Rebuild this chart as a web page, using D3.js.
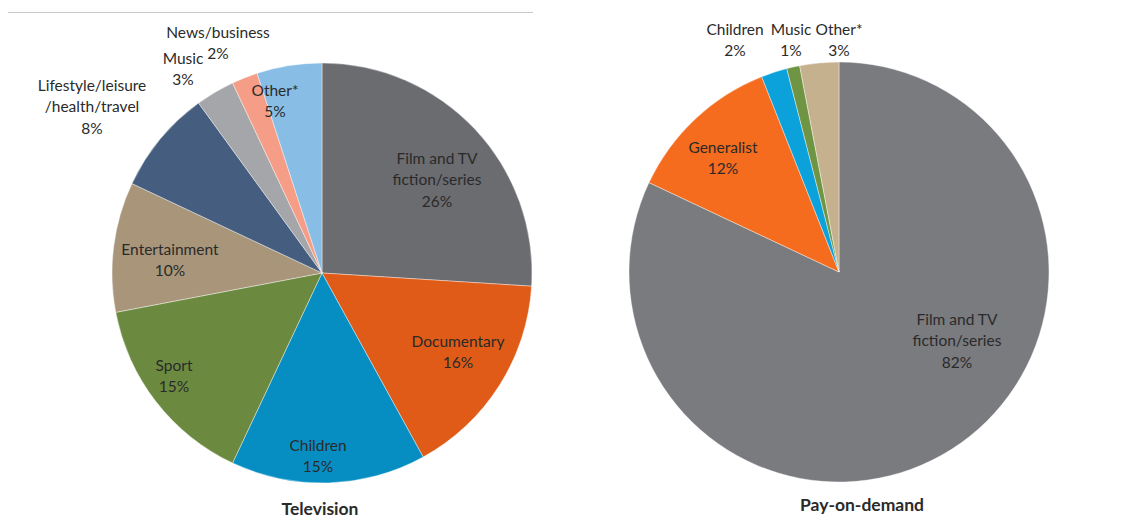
<!DOCTYPE html>
<html>
<head>
<meta charset="utf-8">
<script src="https://cdn.jsdelivr.net/npm/d3@7"></script>
<style>
  html, body { margin: 0; padding: 0; background: #fff; }
  svg { display: block; }
  text { font-family: Lato, "Open Sans", sans-serif; fill: #2a2a2a; }
</style>
</head>
<body>
<svg id="chart" width="1135" height="522"></svg>
<script>
// Television genre shares (clockwise from 12 o'clock)
const tvCategories = ["Film and TV\nfiction/series", "Documentary", "Children", "Sport", "Entertainment",
                      "Lifestyle/leisure\n/health/travel", "Music", "News/business", "Other*"];
const tvValues = [26, 16, 15, 15, 10, 8, 3, 2, 5];
const tvColors = ["#6b6c70", "#df5b17", "#068ec3", "#6c8a3f", "#a9967a", "#455d7e", "#a5a6a9", "#f69d87", "#88bee6"];

// Pay-on-demand genre shares
const podCategories = ["Film and TV\nfiction/series", "Generalist", "Children", "Music", "Other*"];
const podValues = [82, 12, 2, 1, 3];
const podColors = ["#7a7b7f", "#f56c1e", "#0ba2db", "#6f9443", "#c6b18f"];

const titles = ["Television", "Pay-on-demand"];

const svg = d3.select("#chart");

// thin rule across the top of the left panel
svg.append("line")
  .attr("x1", 8).attr("x2", 533).attr("y1", 12.5).attr("y2", 12.5)
  .attr("stroke", "#c9c9c9").attr("stroke-width", 1);

const radius = 210;

// label anchor positions (label centre) relative to each pie centre
const tvLabelPos = [[115, -93], [136, 79], [-4, 183], [-148, 103], [-152, -13],
                    [-230, -166], [-139, -204], [-104, -230], [-47, -172]];
const podLabelPos = [[118, 69], [-116, -114], [-104, -232], [-48, -232], [0, -232]];

function drawPie(cx, cy, categories, values, colors, labelPos, title, titleDx, titleY) {
  const g = svg.append("g").attr("transform", `translate(${cx},${cy})`);
  const pie = d3.pie().sort(null).value(d => d)(values);
  const arc = d3.arc().innerRadius(0).outerRadius(radius);

  g.selectAll("path.slice")
    .data(pie)
    .join("path")
    .attr("class", "slice")
    .attr("d", arc)
    .attr("fill", (d, i) => colors[i])
    .attr("stroke", "#ffffff")
    .attr("stroke-width", 0.4);

  const lineH = 21.5;
  pie.forEach((d, i) => {
    const lines = categories[i].split("\n").concat([values[i] + "%"]);
    const [lx, ly] = labelPos[i];
    const t = g.append("text")
      .attr("text-anchor", "middle")
      .attr("font-size", 15.5);
    const y0 = ly - (lines.length - 1) * lineH / 2;
    lines.forEach((s, k) => {
      t.append("tspan")
        .attr("x", lx)
        .attr("y", y0 + k * lineH)
        .attr("dy", "0.35em")
        .text(s);
    });
  });

  svg.append("text")
    .attr("x", cx + titleDx).attr("y", titleY)
    .attr("text-anchor", "middle")
    .attr("font-size", 17.5)
    .attr("font-weight", "bold")
    .attr("fill", "#111")
    .text(title);
}

drawPie(322, 273, tvCategories, tvValues, tvColors, tvLabelPos, titles[0], -2, 515);
drawPie(839, 272, podCategories, podValues, podColors, podLabelPos, titles[1], 23, 511);
</script>
</body>
</html>
